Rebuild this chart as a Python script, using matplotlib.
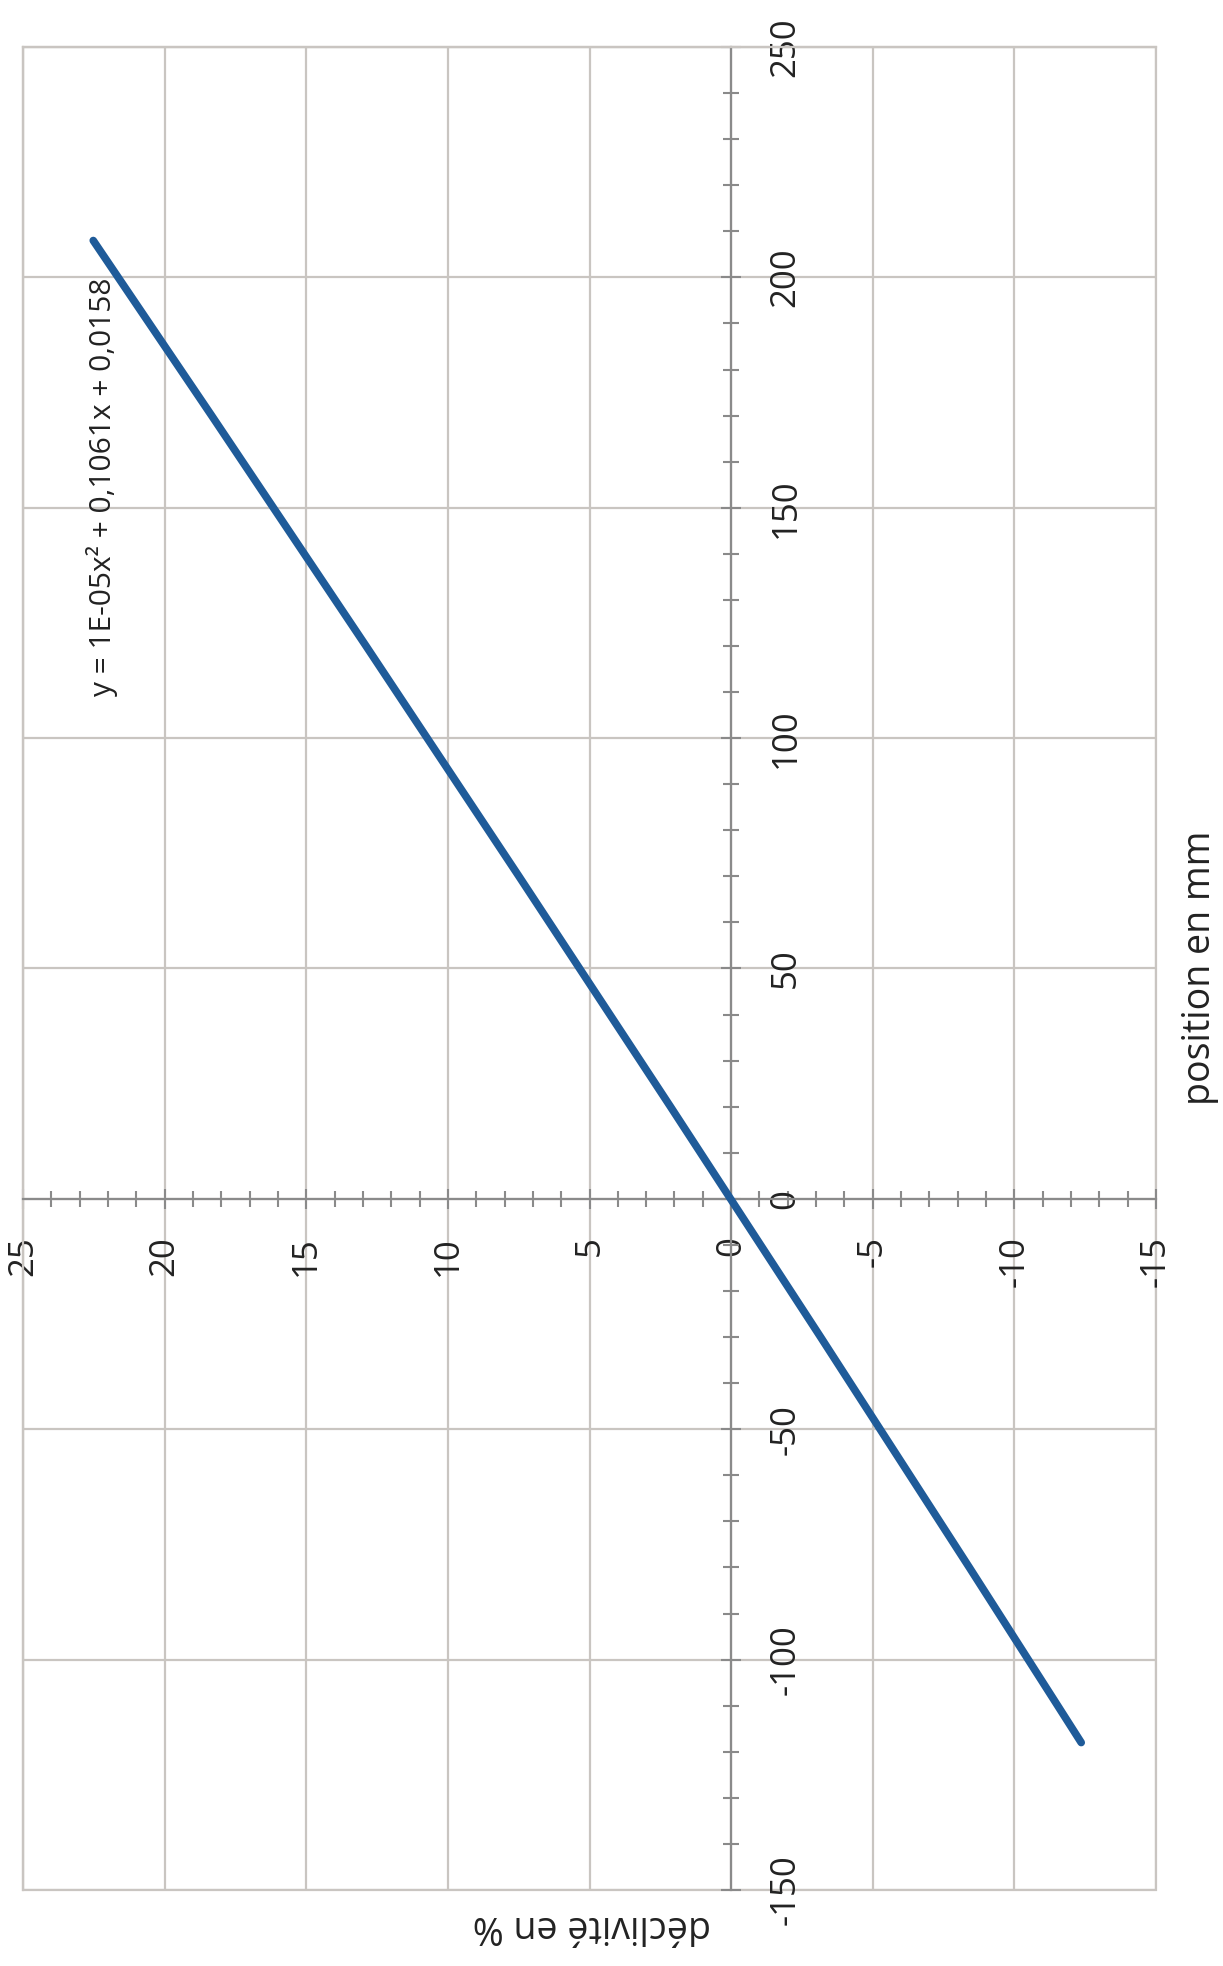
import matplotlib
matplotlib.use("Agg")
import matplotlib.pyplot as plt
from matplotlib.ticker import MultipleLocator
from matplotlib.patches import Rectangle

# ---- data ----
position_mm = [-118, -110, -100, -90, -80, -70, -60, -50, -40, -30, -20, -10, 0,
               10, 20, 30, 40, 50, 60, 70, 80, 90, 100, 110, 120, 130, 140, 150,
               160, 170, 180, 190, 200, 208]
declivite_pct = [-12.36, -11.53, -10.49, -9.45, -8.41, -7.36, -6.31, -5.26, -4.21,
                 -3.16, -2.10, -1.04, 0.02, 1.08, 2.14, 3.21, 4.28, 5.35, 6.42,
                 7.49, 8.57, 9.65, 10.73, 11.81, 12.89, 13.98, 15.07, 16.16,
                 17.25, 18.34, 19.44, 20.54, 21.64, 22.52]
equation = "y = 1E-05x² + 0,1061x + 0,0158"
xlabel_text = "position en mm"
ylabel_text = "déclivité en %"

plt.rcParams['font.family'] = ['Open Sans', 'DejaVu Sans']
plt.rcParams['axes.unicode_minus'] = False

W, H = 1223, 1966
fig = plt.figure(figsize=(W / 100, H / 100), dpi=100)
fig.patch.set_facecolor('white')

left, right, top, bottom = 23, 1156, 47, 1890
ax = fig.add_axes([left / W, 1 - bottom / H, (right - left) / W, (bottom - top) / H])

grid_col = '#C9C5C1'
axis_col = '#8A8A8A'
text_col = '#222222'
line_col = '#1F5B99'

ax.set_xlim(25, -15)
ax.set_ylim(-150, 250)

ax.xaxis.set_major_locator(MultipleLocator(5))
ax.xaxis.set_minor_locator(MultipleLocator(1))
ax.yaxis.set_major_locator(MultipleLocator(50))
ax.yaxis.set_minor_locator(MultipleLocator(10))

ax.grid(True, which='major', color=grid_col, linewidth=1.6, zorder=0)
ax.set_axisbelow(True)

# axes crossing at zero
ax.spines['bottom'].set_position(('data', 0))
ax.spines['right'].set_position(('data', 0))
for s in ('bottom', 'right'):
    ax.spines[s].set_color(axis_col)
    ax.spines[s].set_linewidth(1.6)
for s in ('top', 'left'):
    ax.spines[s].set_color(grid_col)
    ax.spines[s].set_linewidth(1.6)
ax.add_patch(Rectangle((0, 0), 1, 1, transform=ax.transAxes, fill=False,
                       edgecolor=grid_col, linewidth=1.6, zorder=0.5, clip_on=False))

ax.xaxis.set_ticks_position('bottom')
ax.yaxis.set_ticks_position('right')
ax.tick_params(which='major', direction='inout', length=14, width=1.5,
               color=axis_col, pad=20, labelsize=25, labelcolor=text_col)
ax.tick_params(which='minor', direction='inout', length=12, width=1.5, color=axis_col)
ax.tick_params(axis='y', labelright=True, labelleft=False)

ax.plot(declivite_pct, position_mm, color=line_col, linewidth=5.5,
        solid_capstyle='round', solid_joinstyle='round', zorder=3)

fig.canvas.draw()
for lbl in ax.get_yticklabels():
    lbl.set_rotation(90)
    lbl.set_va('center')
    lbl.set_ha('left')
for lbl in ax.get_xticklabels():
    lbl.set_rotation(90)
    lbl.set_va('top')
    lbl.set_ha('center')

ax.text(22.2, 200, equation, rotation=90, ha='center', va='top',
        fontsize=21.5, color=text_col, zorder=4)

fig.text(1200 / W, 1 - 968 / H, xlabel_text, rotation=90, ha='center', va='center',
         fontsize=27, color=text_col)
fig.text(592 / W, 1 - 1926 / H, ylabel_text, rotation=180, ha='center', va='center',
         fontsize=27, color=text_col)

fig.savefig('out.png', dpi=100, facecolor='white')
